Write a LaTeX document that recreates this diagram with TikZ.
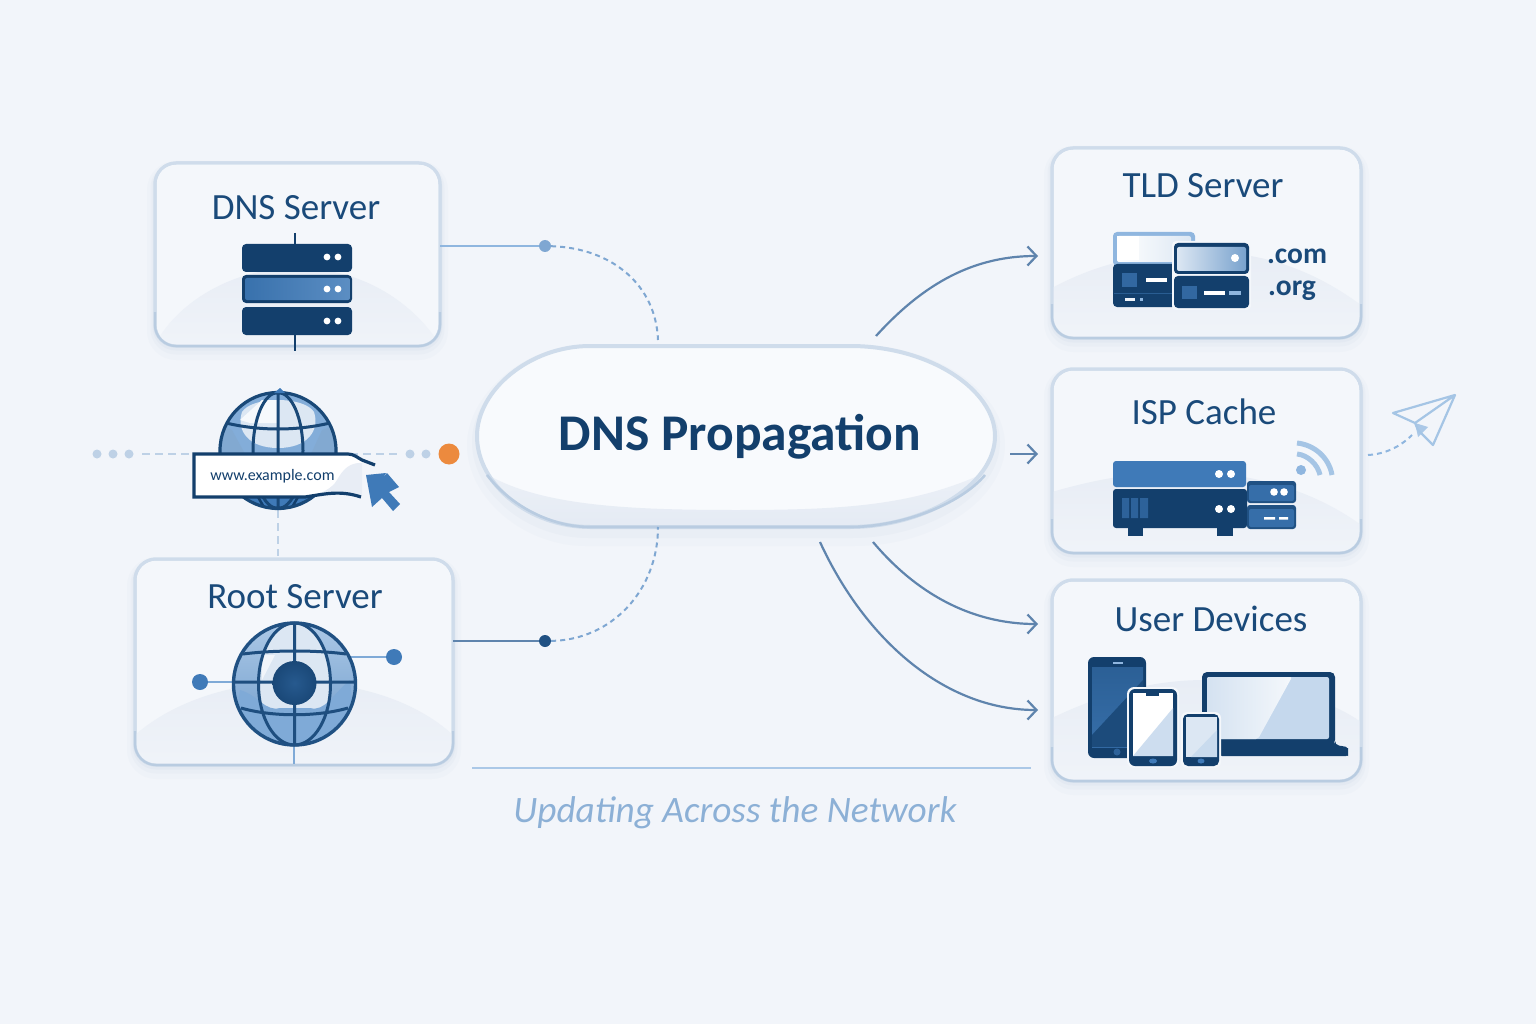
\documentclass[tikz,border=0pt]{standalone}
\usepackage{fontspec}
\setmainfont{Carlito}
\usetikzlibrary{arrows.meta,calc}
\definecolor{bgc}{HTML}{F2F5FA}
\definecolor{cardc}{HTML}{F4F7FB}
\definecolor{hillc}{HTML}{E8EDF5}
\definecolor{edgec}{HTML}{CFDCEB}
\definecolor{edged}{HTML}{B9CCE1}
\definecolor{navy}{HTML}{133F6C}
\definecolor{ink}{HTML}{1A4A7A}
\definecolor{midb}{HTML}{3F7AB8}
\definecolor{lightb}{HTML}{8FB6DF}
\definecolor{pale}{HTML}{DCE7F3}
\definecolor{conn}{HTML}{5F84AD}
\definecolor{dashc}{HTML}{7FA7D2}
\definecolor{dotc}{HTML}{BED1E6}
\definecolor{shad}{HTML}{9DB2CC}
\definecolor{orangedot}{HTML}{EC8A3E}
\newcommand{\cardhill}[2]{%
  \begin{scope}
    \clip[rounded corners=21pt] (#1.south west) rectangle (#1.north east);
    \shade[top color=hillc,bottom color=hillc!35!cardc] #2;
  \end{scope}
  \draw[edgec,line width=3pt,rounded corners=21pt] (#1.south west) rectangle (#1.north east);
  \draw[edged,line width=2.2pt,rounded corners=21pt] ($(#1.south west)+(0,-34)$) -- (#1.south west) -- (#1.south east) -- ($(#1.south east)+(0,-34)$);
}
\tikzset{
  card/.style={shape=rectangle,draw=edgec,line width=3pt,fill=cardc,rounded corners=21pt,inner sep=0pt,outer sep=0pt,
    preaction={draw=shad,draw opacity=.04,line width=16pt,transform canvas={yshift=-6pt}},
    preaction={draw=shad,draw opacity=.05,line width=9pt,transform canvas={yshift=-4pt}},
    preaction={draw=shad,draw opacity=.07,line width=5pt,transform canvas={yshift=-2pt}}},
  title/.style={font=\fontsize{37}{40}\selectfont,text=ink,inner sep=0pt},
  arrowc/.style={draw=conn,line width=2.2pt,-{Straight Barb[length=9pt,width=19pt,line width=2.2pt]}},
  dashlink/.style={draw=dashc,line width=2pt,dash pattern=on 5pt off 4pt},
  solidlink/.style={draw=lightb,line width=2pt},
  hdot/.style={shape=circle,fill=dotc,inner sep=0pt,minimum size=9pt},
  gline/.style={draw=dotc,line width=1.6pt,dash pattern=on 8pt off 5pt},
  led/.style={fill=white,draw=none},
}
\begin{document}
\begin{tikzpicture}[x=1pt,y=-1pt,line cap=butt]
\useasboundingbox (0,0) rectangle (1536,1024);
\fill[bgc] (0,0) rectangle (1536,1024);

\coordinate (pillTopA) at (658,340);
\coordinate (pillBotA) at (658,527);
\coordinate (d1) at (545,246);
\coordinate (d2) at (545,641);

% ---------- central pill ----------
\def\pillpath{(590,346) -- (850,346) .. controls (930,346) and (995,390) .. (995,436) .. controls (995,485) and (925,527) .. (850,527) -- (590,527) .. controls (530,527) and (477,485) .. (477,436) .. controls (477,390) and (530,346) .. (590,346) -- cycle}
\fill[shad,opacity=.04,transform canvas={yshift=-9pt}] (585,336) -- (855,336) .. controls (940,336) and (1005,385) .. (1005,436) .. controls (1005,490) and (935,537) .. (855,537) -- (585,537) .. controls (525,537) and (467,490) .. (467,436) .. controls (467,385) and (525,336) .. (585,336) -- cycle;
\fill[shad,opacity=.06,transform canvas={yshift=-6pt}] (588,341) -- (852,341) .. controls (935,341) and (1000,387) .. (1000,436) .. controls (1000,487) and (930,532) .. (852,532) -- (588,532) .. controls (527,532) and (472,487) .. (472,436) .. controls (472,387) and (527,341) .. (588,341) -- cycle;
\fill[cardc!60!white] \pillpath;
\begin{scope}
  \clip \pillpath;
  \shade[top color=hillc!60!cardc,bottom color=hillc!85!edgec] (477,468) .. controls (530,505) and (620,510) .. (736,510) .. controls (850,510) and (920,505) .. (995,468) -- (995,527) -- (477,527) -- cycle;
\end{scope}
\draw[edgec,line width=4pt] \pillpath;
\draw[edged,line width=2.6pt] (487,475) .. controls (510,505) and (550,527) .. (590,527) -- (850,527) .. controls (900,527) and (960,505) .. (985,475);
\node[shape=rectangle,minimum width=518pt,minimum height=181pt,inner sep=0pt,outer sep=0pt] (pill) at (736,436.5) {};
\node[font=\bfseries\fontsize{51.5}{55}\selectfont,text=navy,inner sep=0pt] (pillT) at (740,437) {DNS Propagation};

% ---------- DNS server card ----------
\node[card,minimum width=285pt,minimum height=183pt] (dns) at (297.5,254.5) {};
\cardhill{dns}{(155,345) .. controls (175,305) and (230,268) .. (296,268) .. controls (365,268) and (415,305) .. (440,345) -- cycle}
\node[title] (dnsT) at (296,208) {DNS Server};
\draw[navy,line width=2.5pt] (295,233) -- (295,244) (295,335) -- (295,351);
\fill[navy,rounded corners=4pt] (242,244) rectangle (352,272);
\fill[navy,rounded corners=4pt] (242,275) rectangle (352,303);
\shade[left color=midb!85!navy,right color=midb!85!white,rounded corners=2pt] (245,278) rectangle (350,300);
\fill[navy,rounded corners=4pt] (242,307) rectangle (352,335);
\foreach \yy in {257,289,321}{\fill[led] (327,\yy) circle[radius=3.4]; \fill[led] (338,\yy) circle[radius=3.4];}

% ---------- example.com globe ----------
\draw[gline] (142,454) -- (195,454);
\draw[gline] (350,454) -- (398,454);
\draw[gline] (278,510) -- (278,556);
\node[hdot] (g1) at (97,454) {};
\node[hdot] (g2) at (113,454) {};
\node[hdot] (g3) at (129,454) {};
\node[hdot] (g4) at (410,454) {};
\node[hdot] (g5) at (426,454) {};
\node[shape=circle,fill=orangedot,inner sep=0pt,minimum size=21pt] (org) at (449,454) {};
\begin{scope}
  \clip (278,450.5) circle[radius=58];
  \fill[lightb!85!midb] (220,392) rectangle (336,509);
  \fill[pale] (242,412) .. controls (252,396) and (304,396) .. (314,412) .. controls (320,430) and (308,448) .. (278,448) .. controls (248,448) and (236,430) .. (242,412) -- cycle;
  \fill[white!75!pale] (240,420) -- (262,400) -- (278,400) -- (278,423) -- (250,423) -- cycle;
  \fill[midb!65!white] (220,454) -- (220,425) -- (232,430) -- (245,454) -- cycle;
  \fill[midb!65!white] (336,454) -- (336,425) -- (322,430) -- (311,454) -- cycle;
  \fill[midb] (200,497) rectangle (350,509);
\end{scope}
\draw[navy!85!midb,line width=3pt]
  (278,392) -- (278,509)
  (278,450.5) ellipse[x radius=25,y radius=58]
  (226,423) .. controls (260,431) and (296,431) .. (330,423);
\begin{scope}
  \clip (278,450.5) circle[radius=58];
  \draw[navy,line width=2.5pt] (258,497) -- (265,509) (298,497) -- (291,509);
\end{scope}
\draw[navy!85!midb,line width=3.2pt] (278,450.5) circle[radius=58];
\fill[midb] (274,393) -- (280,388) -- (285,393) -- cycle;
% banner
\fill[white] (193,453) -- (350,453) .. controls (354,455) and (358,458) .. (362,460)
  -- (362,497) .. controls (340,490) and (325,493) .. (305,497) -- (193,497) -- cycle;
\fill[hillc] (362,463) .. controls (345,462) and (340,476) .. (335,483) .. controls (328,491) and (318,495) .. (305,496) .. controls (325,493) and (340,490) .. (362,496) -- cycle;
\draw[navy,line width=3.2pt,line join=miter] (375,465) -- (362,460) .. controls (358,458) and (354,454) .. (348,454) -- (194,454) -- (194,497) -- (305,497) .. controls (325,494) and (340,490) .. (361,497);
\node[font=\fontsize{16}{18}\selectfont,text=navy,inner sep=0pt] (url) at (272.5,476) {www.example.com};
\fill[midb] (366,475) -- (386,473) -- (382,479) -- (387,473) -- (399,487) -- (389,492) -- (400,504) -- (393,511) -- (382,498) -- (372,507) -- cycle;

% ---------- Root server card ----------
\node[card,minimum width=318pt,minimum height=206pt] (root) at (294,662) {};
\cardhill{root}{(135,765) -- (135,735) .. controls (175,700) and (235,682) .. (295,682) .. controls (355,682) and (415,700) .. (453,735) -- (453,765) -- cycle}
\node[title] (rootT) at (295,597) {Root Server};
\draw[lightb!80!midb,line width=2.5pt] (200,682) -- (233,682) (350,657) -- (394,657) (294,744) -- (294,764);
\node[shape=circle,fill=midb,inner sep=0pt,minimum size=16pt] (rootL) at (200,682) {};
\node[shape=circle,fill=midb,inner sep=0pt,minimum size=16pt] (rootR) at (394,657) {};
\begin{scope}
  \clip (294.5,684) circle[radius=61];
  \shade[top color=lightb!75!white,bottom color=midb!75!white] (233,623) rectangle (356,745);
  \fill[pale] (294.5,684) ellipse[x radius=36,y radius=61];
  \fill[lightb!80!midb] (240,690) .. controls (258,695) and (265,712) .. (280,708) -- (310,708) .. controls (325,712) and (332,695) .. (350,680) -- (356,745) -- (233,745) -- cycle;
  \fill[white!60!pale] (262,655) -- (275,655) -- (262,680) -- cycle;
\end{scope}
\draw[navy!75!midb,line width=3pt]
  (294.5,623) -- (294.5,745)
  (233.5,682) -- (355.5,682)
  (294.5,684) ellipse[x radius=36,y radius=61]
  (243,654) .. controls (275,650) and (315,650) .. (346,654)
  (241,708) .. controls (272,717) and (317,717) .. (348,708);
\draw[navy!70!midb,line width=3.4pt] (294.5,684) circle[radius=61];
\shade[inner color=midb!45!navy,outer color=navy!85!midb,draw=none] (294.5,683) circle[radius=22];

% ---------- TLD card ----------
\node[card,minimum width=309pt,minimum height=190pt] (tld) at (1206.5,243) {};
\cardhill{tld}{(1052,338) -- (1052,288) .. controls (1100,262) and (1150,252) .. (1205,252) .. controls (1270,252) and (1320,275) .. (1361,305) -- (1361,338) -- cycle}
\node[title] (tldT) at (1203,186) {TLD Server};
\fill[lightb,rounded corners=4pt] (1113,232) rectangle (1195,266);
\shade[left color=white,right color=pale,rounded corners=2pt] (1117,236) rectangle (1191,262);
\fill[white] (1117,236) rectangle (1139,260);
\fill[navy,rounded corners=4pt] (1113,264) rectangle (1176,307);
\fill[midb!70!navy] (1122,273) rectangle (1137,287);
\fill[white] (1146,278.5) rectangle (1167,282);
\draw[midb!50!navy,line width=1pt] (1114,293) -- (1175,293);
\fill[white!85!lightb] (1125,298) rectangle (1135,300.5);
\fill[lightb] (1140,298) rectangle (1143,300.5);
\fill[cardc,rounded corners=4pt] (1172,241) rectangle (1251,310);
\fill[navy,rounded corners=4pt] (1174,243) rectangle (1249,274);
\shade[left color=pale,right color=midb!70!white,rounded corners=2pt] (1177,247) rectangle (1246,271);
\fill[white] (1235,258) circle[radius=4];
\fill[navy,rounded corners=4pt] (1174,276) rectangle (1249,308);
\fill[midb!70!navy] (1182,286) rectangle (1197,299);
\fill[white] (1204,291) rectangle (1225,294.5);
\fill[lightb] (1229,291) rectangle (1241,294.5);
\node[font=\bfseries\fontsize{29.5}{31}\selectfont,text=ink,inner sep=0pt] (com) at (1297,256) {.com};
\node[font=\bfseries\fontsize{29.5}{31}\selectfont,text=ink,inner sep=0pt] (org2) at (1292,291) {.org};

% ---------- ISP card ----------
\node[card,minimum width=309pt,minimum height=184pt] (isp) at (1206.5,461) {};
\cardhill{isp}{(1052,553) -- (1052,492) .. controls (1100,478) and (1140,472) .. (1185,472) .. controls (1260,472) and (1320,495) .. (1361,525) -- (1361,553) -- cycle}
\node[title] (ispT) at (1204,412) {ISP Cache};
\fill[navy] (1128,526) rectangle (1143,536);
\fill[navy] (1217,526) rectangle (1233,536);
\fill[midb,rounded corners=3pt] (1113,461) rectangle (1246,487);
\fill[navy,rounded corners=3pt] (1113,489) rectangle (1247,528);
\fill[midb!60!navy] (1122,498) rectangle (1129,518) (1131,498) rectangle (1138,518) (1140,498) rectangle (1148,518);
\foreach \yy in {474,509}{\fill[led] (1219,\yy) circle[radius=4]; \fill[led] (1231,\yy) circle[radius=4];}
\fill[navy!70!midb,rounded corners=3pt] (1247,481) rectangle (1296,503);
\fill[midb!80!navy,rounded corners=2pt] (1249,485) rectangle (1294,501);
\fill[navy!70!midb,rounded corners=3pt] (1247,505) rectangle (1296,529);
\fill[midb!80!navy,rounded corners=2pt] (1249,509) rectangle (1294,527);
\fill[led] (1274,492) circle[radius=3.8]; \fill[led] (1284,492) circle[radius=3.8];
\fill[white] (1264,517) rectangle (1275,519.5) (1279,517) rectangle (1288,519.5);
\draw[lightb!80!white,line width=5pt] (1297,454) .. controls (1308,455) and (1318,465) .. (1320,475);
\draw[lightb!80!white,line width=5pt] (1297,443) .. controls (1315,445) and (1329,458) .. (1332,475);
\fill[lightb] (1301,470) ellipse[x radius=5,y radius=5];

% ---------- User devices card ----------
\node[card,minimum width=309pt,minimum height=201pt] (usr) at (1206.5,680.5) {};
\cardhill{usr}{(1052,781) -- (1052,718) .. controls (1100,695) and (1150,680) .. (1205,680) .. controls (1270,680) and (1330,700) .. (1361,722) -- (1361,781) -- cycle}
\node[title] (usrT) at (1211,619) {User Devices};
% big phone
\fill[navy,rounded corners=6pt] (1088,657) rectangle (1146,758);
\shade[top color=midb!55!navy,bottom color=midb!80!navy] (1092,667) rectangle (1143,747);
\fill[navy!80!midb] (1143,680) -- (1143,747) -- (1092,747) -- (1092,735) -- cycle;
\fill[lightb] (1113,662) rectangle (1123,664);
\fill[midb!60!navy] (1117,752) circle[radius=3.5];
% laptop
\fill[navy,rounded corners=5pt] (1202,672) rectangle (1335,745);
\fill[pale!70!lightb,rounded corners=2pt] (1207,677) rectangle (1329,739);
\shade[left color=pale!90!lightb,right color=pale!30!white,rounded corners=2pt] (1207,677) -- (1292,677) -- (1258,739) -- (1207,739) -- cycle;
\fill[navy,rounded corners=4pt] (1218,740) -- (1335,740) -- (1335,745) -- (1342,746) .. controls (1347,747) and (1348,750) .. (1348,752) .. controls (1348,755) and (1346,756) .. (1342,756) -- (1218,756) -- cycle;
% middle phone
\fill[cardc,rounded corners=7pt] (1127,687) rectangle (1179,768);
\fill[navy,rounded corners=6pt] (1129,689) rectangle (1177,766);
\fill[white] (1133,693) rectangle (1173,756);
\fill[pale!80!lightb] (1173,708) -- (1173,756) -- (1133,756) -- cycle;
\fill[navy] (1146,693) rectangle (1159,695.5);
\fill[midb] (1153,761) ellipse[x radius=4,y radius=2.5];
% small phone
\fill[cardc,rounded corners=6pt] (1181,712) rectangle (1221,768);
\fill[navy,rounded corners=5pt] (1183,714) rectangle (1219,766);
\fill[pale] (1186,717) rectangle (1217,757);
\fill[pale!75!lightb] (1217,730) -- (1217,757) -- (1191,757) -- cycle;
\fill[midb] (1201,761) ellipse[x radius=3.5,y radius=2.5];

% ---------- connectors ----------
\draw[solidlink] (dns.east |- d1) -- (d1);
\draw[solidlink,draw=conn] (root.east |- d2) -- (d2);
\node[shape=circle,fill=dashc,inner sep=0pt,minimum size=12pt] (dA) at (d1) {};
\node[shape=circle,fill=navy!70!midb,inner sep=0pt,minimum size=12pt] (dB) at (d2) {};
\draw[dashlink] (dA) .. controls (612,248) and (656,285) .. (pillTopA);
\draw[dashlink] (dB) .. controls (612,640) and (658,590) .. (pillBotA);
\coordinate (tldIn) at (1038,256);
\coordinate (ispIn) at (1038,454);
\coordinate (usrIn1) at (1038,624);
\coordinate (usrIn2) at (1038,710);
\coordinate (o1) at (876,336);
\coordinate (o2) at (1010,454);
\coordinate (o3) at (873,542);
\coordinate (o4) at (820,542);
\draw[arrowc] (o1) .. controls (925,282) and (975,256) .. (tldIn);
\draw[arrowc] (o2) -- (ispIn);
\draw[arrowc] (o3) .. controls (915,592) and (970,624) .. (usrIn1);
\draw[arrowc] (o4) .. controls (865,640) and (945,710) .. (usrIn2);

% ---------- paper plane ----------
\coordinate (pp) at (1412,435);
\draw[dashlink,draw=lightb] (1368,455) .. controls (1385,454) and (1400,447) .. (pp);
\fill[lightb!75!white] (1415,423) -- (1428,427) -- (1418,437) -- cycle;
\draw[lightb!80!white,line width=2.2pt,line join=round] (1455,395) -- (1393,413) -- (1415,423) -- cycle (1455,395) -- (1433,445) -- (1418,430) -- (1415,423);

% ---------- baseline & caption ----------
\coordinate (lineA) at (472,768);
\coordinate (lineB) at (1031,768);
\draw[lightb!75!white,line width=2pt] (lineA) -- (lineB);
\node[font=\itshape\fontsize{37.3}{40}\selectfont,text=dashc!90!white,inner sep=0pt] (cap) at (735,813) {Updating Across the Network};
\end{tikzpicture}
\end{document}
